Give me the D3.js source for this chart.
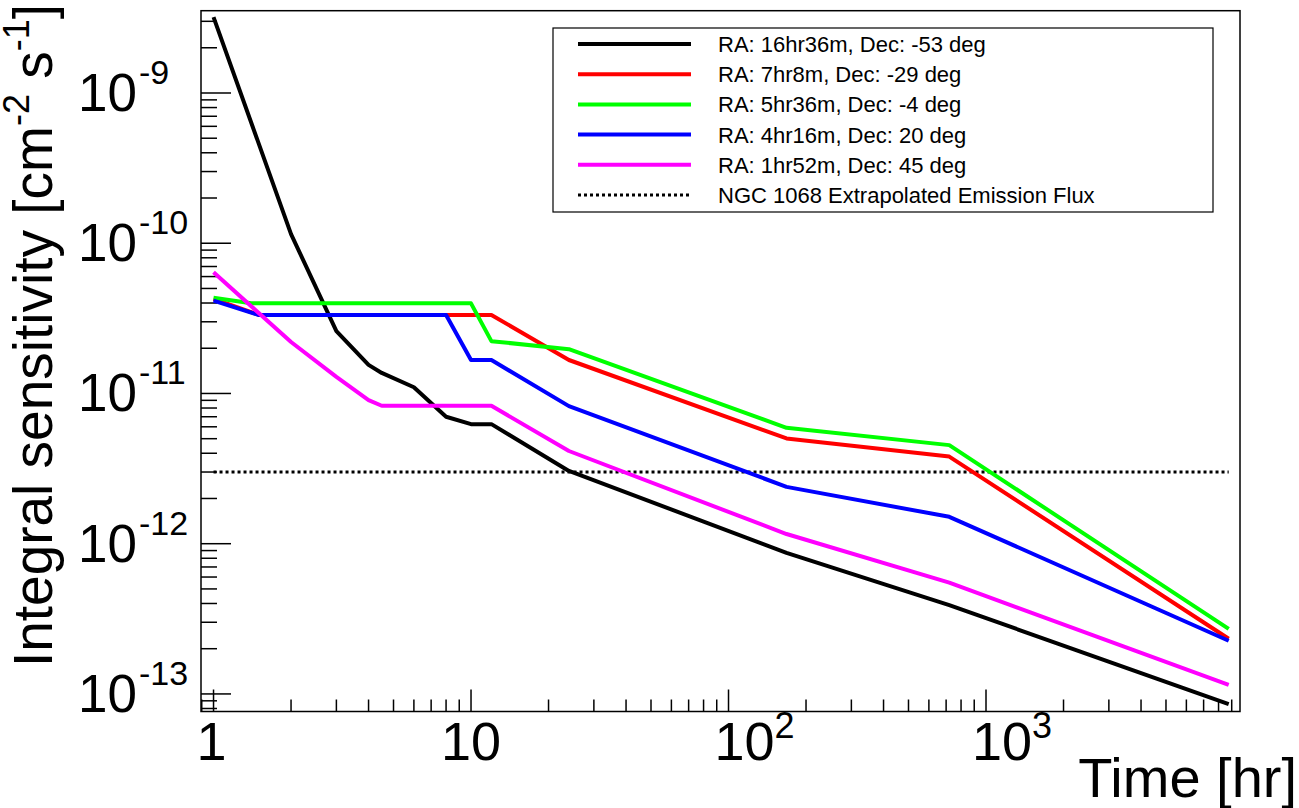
<!DOCTYPE html>
<html>
<head>
<meta charset="utf-8">
<script src="https://cdn.jsdelivr.net/npm/d3@7"></script>
<style>
  html, body { margin: 0; padding: 0; background: #fff; }
  svg { display: block; font-family: "Liberation Sans", Arial, Helvetica, sans-serif; }
</style>
</head>
<body>
<svg id="chart" width="1299" height="808"></svg>
<script>
// ---------- data ----------
const seriesNames = [
  "RA: 16hr36m, Dec: -53 deg",
  "RA: 7hr8m, Dec: -29 deg",
  "RA: 5hr36m, Dec: -4 deg",
  "RA: 4hr16m, Dec: 20 deg",
  "RA: 1hr52m, Dec: 45 deg"
];
const seriesColors = ["#000000", "#ff0000", "#00ff00", "#0000ff", "#ff00ff"];

const timeBlack   = [1, 2, 3, 4, 4.5, 6, 8, 10, 12, 24, 168, 720, 8760];
const valueBlack  = [3.2e-9, 1.15e-10, 2.6e-11, 1.55e-11, 1.37e-11, 1.1e-11, 7.0e-12, 6.25e-12, 6.25e-12, 3.05e-12, 8.7e-13, 3.9e-13, 8.55e-14];

const timeRed     = [1, 1.5, 12, 24, 168, 720, 8760];
const valueRed    = [4.26e-11, 3.33e-11, 3.33e-11, 1.67e-11, 5.02e-12, 3.8e-12, 2.33e-13];

const timeGreen   = [1, 1.4, 10, 12, 24, 168, 720, 8760];
const valueGreen  = [4.34e-11, 3.98e-11, 3.98e-11, 2.23e-11, 1.97e-11, 5.91e-12, 4.53e-12, 2.71e-13];

const timeBlue    = [1, 1.5, 8, 10, 12, 24, 168, 720, 8760];
const valueBlue   = [4.15e-11, 3.33e-11, 3.33e-11, 1.67e-11, 1.67e-11, 8.24e-12, 2.39e-12, 1.51e-12, 2.26e-13];

const timeMagenta = [1, 2, 3, 4, 4.5, 12, 24, 168, 720, 8760];
const valueMagenta= [6.4e-11, 2.2e-11, 1.29e-11, 9.04e-12, 8.28e-12, 8.28e-12, 4.14e-12, 1.16e-12, 5.5e-13, 1.15e-13];

const refName  = "NGC 1068 Extrapolated Emission Flux";
const refTime  = [1, 8760];
const refValue = [3.0e-12, 3.0e-12];

const xTickBase = ["1", "10", "10", "10"];
const xTickExp  = ["", "", "2", "3"];
const xTickValues = [1, 10, 100, 1000];
const yTickExp  = [-9, -10, -11, -12, -13];

const xTitle = "Time [hr]";
const yTitleParts = [["Integral sensitivity [cm", false], ["-2", true], [" s", false], ["-1", true], ["]", false]];

// ---------- layout ----------
const frame = { left: 201, right: 1240, top: 10.7, bottom: 711.5 };
const x = d3.scaleLog().domain([0.894, 9692]).range([frame.left, frame.right]);
const y = d3.scaleLog().domain([7.64e-14, 3.53e-9]).range([frame.bottom, frame.top]);

const svg = d3.select("#chart");

svg.append("defs").append("clipPath").attr("id", "clip")
  .append("rect").attr("x", frame.left).attr("y", frame.top)
  .attr("width", frame.right - frame.left).attr("height", frame.bottom - frame.top);

svg.append("rect")
  .attr("x", frame.left).attr("y", frame.top)
  .attr("width", frame.right - frame.left).attr("height", frame.bottom - frame.top)
  .attr("fill", "none").attr("stroke", "#000").attr("stroke-width", 1.5);

// ---------- y ticks ----------
const yTicks = [];
for (let e = -14; e <= -8; e++) {
  for (let m = 1; m <= 9; m++) {
    const v = m * Math.pow(10, e);
    const [d0, d1] = y.domain();
    if (v >= d0 && v <= d1) yTicks.push({ v, major: m === 1 });
  }
}
svg.append("g").selectAll("line").data(yTicks).join("line")
  .attr("x1", frame.left).attr("x2", d => frame.left + (d.major ? 30 : 16))
  .attr("y1", d => y(d.v)).attr("y2", d => y(d.v))
  .attr("stroke", "#000").attr("stroke-width", 1.5);

const yLab = svg.append("g").selectAll("text").data(yTickExp).join("text")
  .attr("x", 78).attr("y", d => y(Math.pow(10, d)) + 18)
  .attr("text-anchor", "start").attr("font-size", 53).attr("fill", "#000");
yLab.append("tspan").text("10");
yLab.append("tspan").attr("font-size", 34).attr("dx", 2).attr("dy", -27).text(d => String(d));

// ---------- x ticks ----------
const xTicks = [];
for (let e = -1; e <= 4; e++) {
  for (let m = 1; m <= 9; m++) {
    const v = m * Math.pow(10, e);
    const [d0, d1] = x.domain();
    if (v >= d0 && v <= d1) xTicks.push({ v, major: m === 1 });
  }
}
svg.append("g").selectAll("line").data(xTicks).join("line")
  .attr("x1", d => x(d.v)).attr("x2", d => x(d.v))
  .attr("y1", frame.bottom).attr("y2", d => frame.bottom - (d.major ? 22 : 12))
  .attr("stroke", "#000").attr("stroke-width", 1.5);

const xLab = svg.append("g").selectAll("text").data(xTickValues).join("text")
  .attr("x", (d, i) => xTickExp[i] ? x(d) - 14 : x(d) - (i === 0 ? 2 : 0)).attr("y", 760)
  .attr("text-anchor", (d, i) => xTickExp[i] ? "start" : "middle")
  .attr("font-size", 54).attr("fill", "#000");
xLab.append("tspan").text((d, i) => xTickBase[i]);
xLab.append("tspan").attr("font-size", 36).attr("dy", -22).text((d, i) => xTickExp[i]);

// ---------- axis titles ----------
svg.append("text")
  .attr("x", 1297).attr("y", 797)
  .attr("text-anchor", "end").attr("font-size", 56).attr("fill", "#000")
  .text(xTitle);

const yt = svg.append("text")
  .attr("transform", "translate(52,4) rotate(-90)")
  .attr("text-anchor", "end").attr("font-size", 55).attr("fill", "#000");
yTitleParts.forEach(([t, sup], i) => {
  const prevSup = i > 0 && yTitleParts[i - 1][1];
  const ts = yt.append("tspan").text(t);
  if (sup) ts.attr("font-size", 36).attr("dy", -23);
  else if (prevSup) ts.attr("dy", 23);
});

// ---------- series ----------
const series = [
  { name: seriesNames[0], color: seriesColors[0], t: timeBlack,   v: valueBlack },
  { name: seriesNames[1], color: seriesColors[1], t: timeRed,     v: valueRed },
  { name: seriesNames[2], color: seriesColors[2], t: timeGreen,   v: valueGreen },
  { name: seriesNames[3], color: seriesColors[3], t: timeBlue,    v: valueBlue },
  { name: seriesNames[4], color: seriesColors[4], t: timeMagenta, v: valueMagenta }
];

const line = d3.line().x(d => x(d[0])).y(d => y(d[1]));
const plot = svg.append("g").attr("clip-path", "url(#clip)");

plot.append("path")
  .attr("d", line(refTime.map((t, i) => [t, refValue[i]])))
  .attr("fill", "none").attr("stroke", "#000").attr("stroke-width", 3)
  .attr("stroke-dasharray", "3,3");

series.forEach(s => {
  plot.append("path")
    .attr("d", line(s.t.map((t, i) => [t, s.v[i]])))
    .attr("fill", "none").attr("stroke", s.color).attr("stroke-width", 4)
    .attr("stroke-linejoin", "round");
});

// ---------- legend ----------
const leg = { x: 553, y: 28, w: 660, h: 184 };
svg.append("rect").attr("x", leg.x).attr("y", leg.y).attr("width", leg.w).attr("height", leg.h)
  .attr("fill", "#fff").attr("stroke", "#000").attr("stroke-width", 1.2);

const legItems = series.map(s => ({ name: s.name, color: s.color, dash: null, w: 4 }))
  .concat([{ name: refName, color: "#000", dash: "3,3", w: 3 }]);
const rowY = i => 44 + i * 30.2;
const lg = svg.append("g");
legItems.forEach((d, i) => {
  lg.append("line").attr("x1", 578).attr("x2", 691).attr("y1", rowY(i)).attr("y2", rowY(i))
    .attr("stroke", d.color).attr("stroke-width", d.w)
    .attr("stroke-dasharray", d.dash);
  lg.append("text").attr("x", 718).attr("y", rowY(i) + 8)
    .attr("font-size", 22).attr("fill", "#000").text(d.name);
});
</script>
</body>
</html>
